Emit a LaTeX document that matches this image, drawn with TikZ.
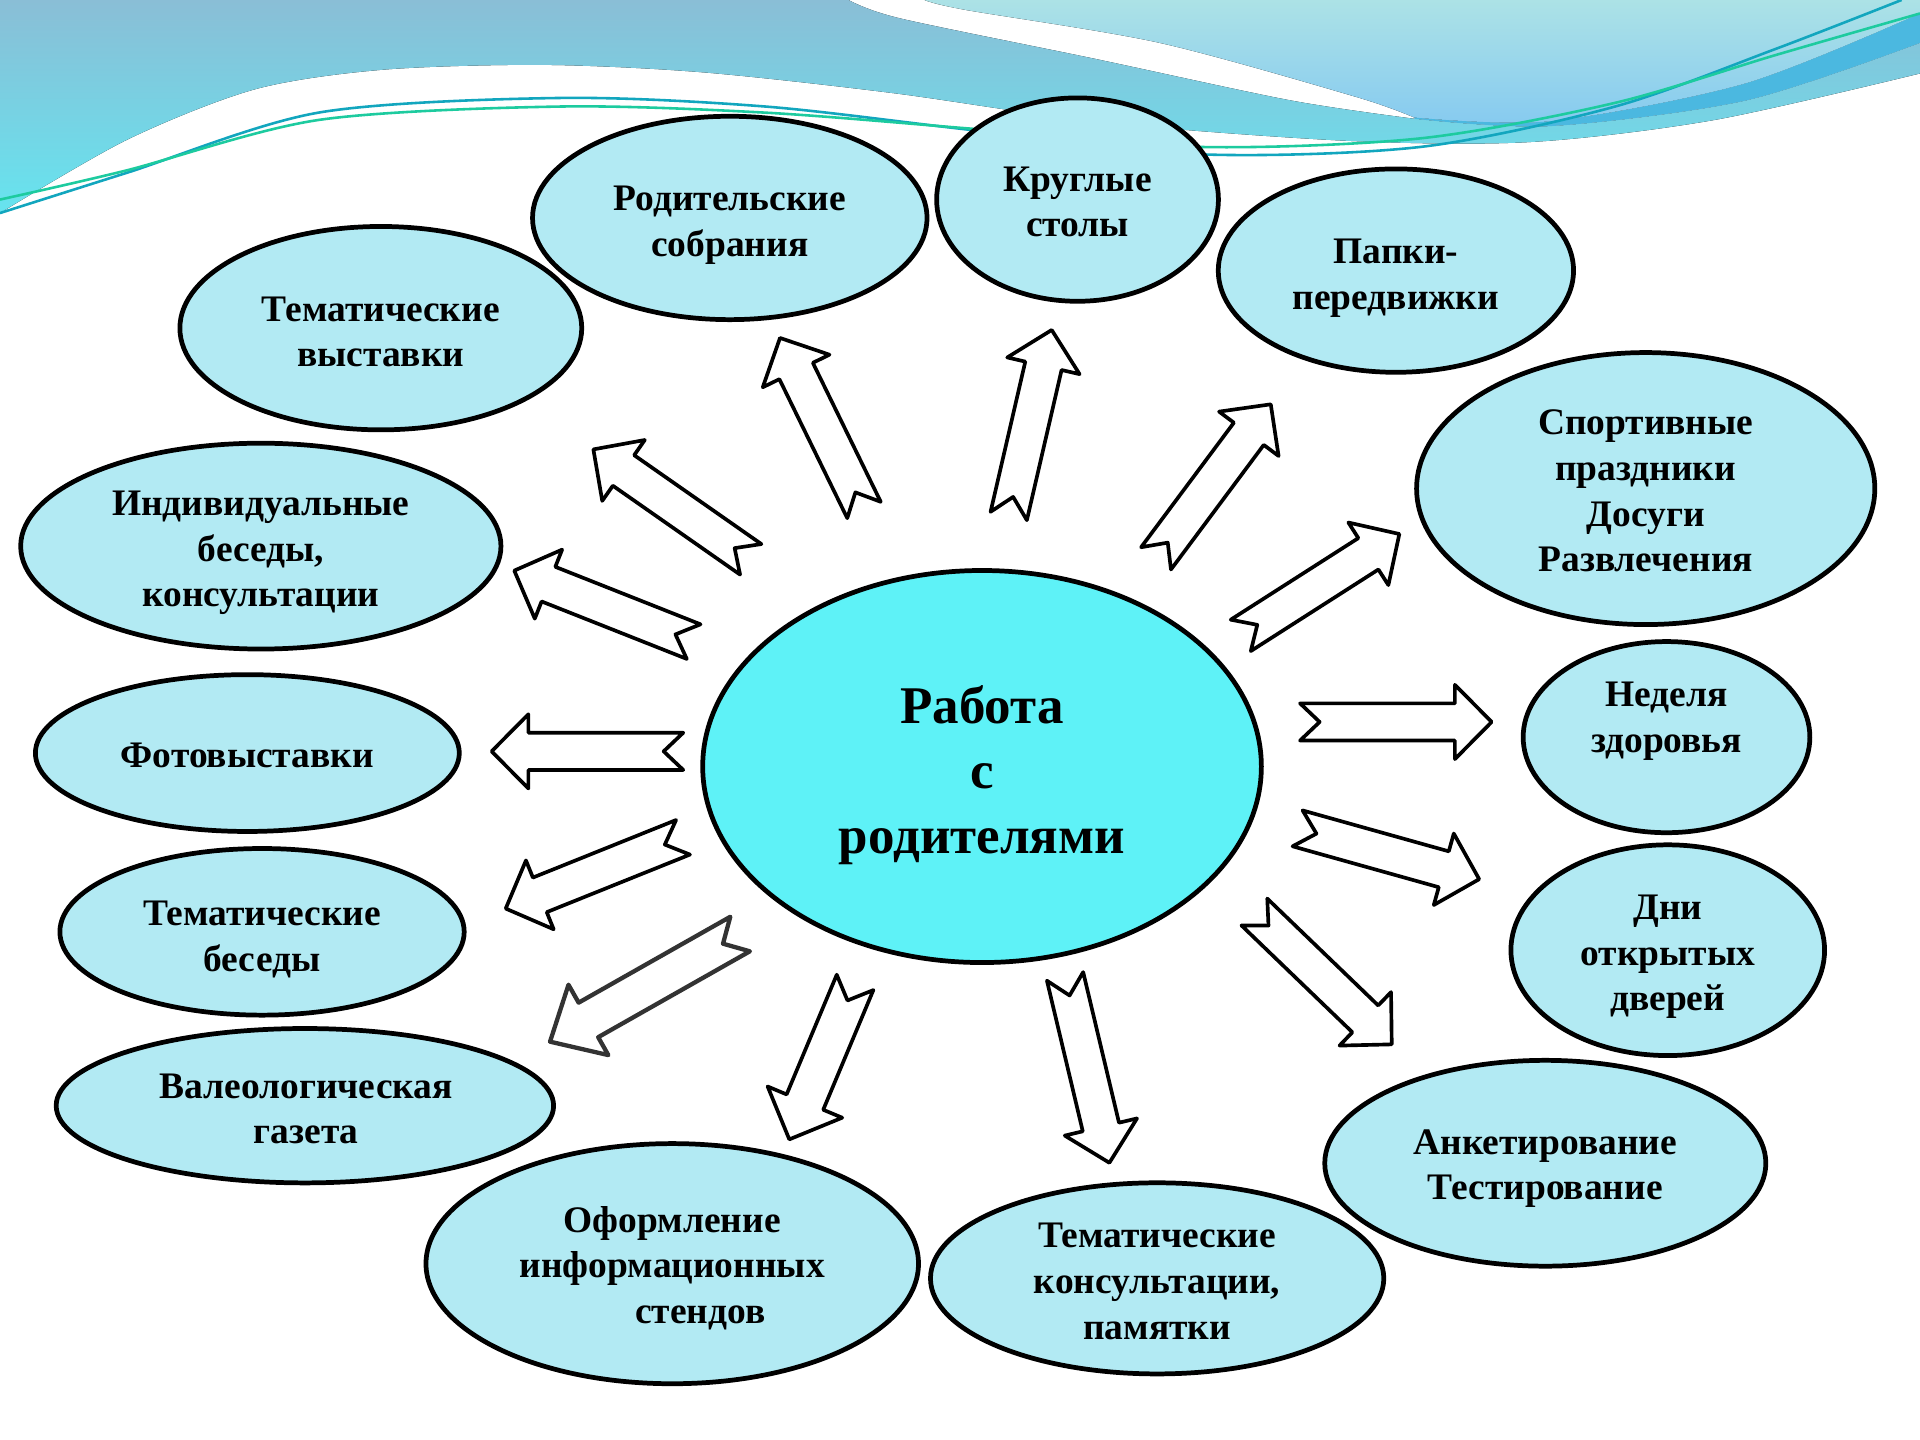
\documentclass[tikz,border=0pt]{standalone}
\usepackage{fontspec}
\setmainfont{Liberation Serif}
\usetikzlibrary{shapes.geometric,calc}
\definecolor{bub}{RGB}{178,234,243}
\definecolor{maincol}{RGB}{94,242,247}
\definecolor{aTop}{RGB}{138,190,214}
\definecolor{aBot}{RGB}{102,228,239}
\definecolor{bTop}{RGB}{172,226,230}
\definecolor{bBot}{RGB}{134,202,240}
\definecolor{streak}{RGB}{75,184,224}
\definecolor{teal}{RGB}{18,166,190}
\definecolor{grn}{RGB}{29,203,159}
\newcommand\bubfont{\bfseries\fontsize{8.7}{10.6}\selectfont}
\newcommand\mainfont{\bfseries\fontsize{12.3}{15.1}\selectfont}
\tikzset{
  bubble/.style={ellipse, draw=black, line width=1.1pt, fill=bub, inner sep=0pt},
  centrebub/.style={ellipse, draw=black, line width=1.1pt, fill=maincol, inner sep=0pt},
  btext/.style={align=center, font=\bubfont, inner sep=0pt},
  mtext/.style={align=center, font=\mainfont, inner sep=0pt},
  barrow/.style={draw=black, fill=white, line width=0.85pt, line join=round},
  blurarrow/.style={draw=black!80, fill=white, line width=1pt, line join=round},
  thin/.style={line width=0.6pt}
}
\newcommand\blockarrow[6]{%
  \coordinate (hb) at ($(#2)!#5!(#1)$);
  \coordinate (nt) at ($(#1)!0.16cm!(#2)$);
  \draw[#6] ($(#1)!#3!90:(#2)$) -- ($(hb)!#3!90:(#2)$) -- ($(hb)!#4!90:(#2)$) -- (#2)
    -- ($(hb)!#4!-90:(#2)$) -- ($(hb)!#3!-90:(#2)$) -- ($(#1)!#3!-90:(#2)$) -- (nt) -- cycle;
}
\begin{document}
\begin{tikzpicture}[x=0.01cm,y=-0.01cm]
\useasboundingbox (0,0) rectangle (1568,1176);
\fill[white] (0,0) rectangle (1568,1176);
% background waves
\fill[top color=aTop, bottom color=aBot] (0,0) -- (693,0)
  -- plot[smooth] coordinates {(693,0) (735,15) (894,48) (1054,82) (1155,97)}
  -- plot[smooth] coordinates {(1155,97) (1266,103) (1426,82) (1568,35)}
  -- (1568,60)
  -- plot[smooth] coordinates {(1568,60) (1400,98) (1250,116) (1100,115) (900,100) (729,76) (573,59) (443,53) (312,57) (208,73) (104,114) (0,174)}
  -- cycle;
\fill[top color=bTop, bottom color=bBot] (755,0) -- (1568,0) -- (1568,11)
  -- plot[smooth] coordinates {(1568,11) (1426,68) (1266,99) (1155,96)}
  -- plot[smooth] coordinates {(1155,96) (1107,79) (947,35) (788,8) (755,0)}
  -- cycle;
\fill[streak] plot[smooth] coordinates {(1155,96) (1266,99) (1426,68) (1568,11)}
  -- (1568,35)
  -- plot[smooth] coordinates {(1568,35) (1426,82) (1266,103) (1155,97)} -- cycle;
\draw[thin, teal] plot[smooth] coordinates {(0,174) (104,141) (260,92) (458,80) (625,87) (792,106) (979,126) (1160,120) (1319,87) (1450,40) (1553,0)};
\draw[thin, grn] plot[smooth] coordinates {(0,163) (104,139) (260,98) (458,87) (625,92) (792,105) (979,120) (1160,113) (1319,84) (1450,45) (1568,11)};
% ellipses
\node[bubble, minimum width=3.22cm, minimum height=1.66cm] (rod) at (596,178) {};
\node[bubble, minimum width=2.30cm, minimum height=1.66cm] (krug) at (880,163) {};
\node[bubble, minimum width=2.90cm, minimum height=1.66cm] (papki) at (1140,221) {};
\node[bubble, minimum width=3.28cm, minimum height=1.66cm] (vyst) at (311,268) {};
\node[bubble, minimum width=3.74cm, minimum height=2.22cm] (sport) at (1344,399) {};
\node[bubble, minimum width=3.92cm, minimum height=1.68cm] (indiv) at (213,446) {};
\node[bubble, minimum width=3.46cm, minimum height=1.28cm] (foto) at (202,615) {};
\node[bubble, minimum width=2.34cm, minimum height=1.56cm] (ned) at (1361,602) {};
\node[centrebub, minimum width=4.56cm, minimum height=3.20cm] (main) at (802,626) {};
\node[bubble, minimum width=3.30cm, minimum height=1.36cm] (besedy) at (214,761) {};
\node[bubble, minimum width=2.56cm, minimum height=1.72cm] (dni) at (1362,776) {};
\node[bubble, minimum width=4.06cm, minimum height=1.26cm] (gaz) at (249,903) {};
\node[bubble, minimum width=3.60cm, minimum height=1.68cm] (ank) at (1262,950) {};
\node[bubble, minimum width=4.02cm, minimum height=1.96cm] (oform) at (549,1032) {};
\node[bubble, minimum width=3.70cm, minimum height=1.56cm] (tkons) at (945,1044) {};
% texts
\node[btext] (rodT) at (596,184) {Родительские\\собрания};
\node[btext] (krugT) at (880,165) {Круглые\\столы};
\node[btext] (papkiT) at (1140,227) {Папки-\\передвижки};
\node[btext] (vystT) at (311,271) {Тематические\\выставки};
\node[btext] (sportT) at (1344,401) {Спортивные\\праздники\\Досуги\\Развлечения};
\node[btext] (indivT) at (213,451.5) {Индивидуальные\\беседы,\\консультации};
\node[btext] (fotoT) at (202,617) {Фотовыставки};
\node[btext] (nedT) at (1361,589) {Неделя\\здоровья};
\node[mtext] (mainT) at (802,633) {Работа\\с\\родителями};
\node[btext] (besedyT) at (214,767) {Тематические\\беседы};
\node[btext] (dniT) at (1362,781.5) {Дни\\открытых\\дверей};
\node[btext] (gazT) at (250,905.5) {Валеологическая\\газета};
\node[btext] (ankT) at (1262,954.5) {Анкетирование\\Тестирование};
\node[btext] (oformT) at (549,1035.5) {Оформление\\информационных\\\hspace*{0.46cm}стендов};
\node[btext] (tkonsT) at (945,1046.5) {Тематические\\консультации,\\памятки};
% arrow end points
\coordinate (t1) at (705.6,416.5);  \coordinate (h1) at (637,276);
\coordinate (t2) at (823.8,421.4);  \coordinate (h2) at (858.9,269.5);
\coordinate (t3) at (944.1,456);    \coordinate (h3) at (1037.8,330.2);
\coordinate (t4) at (1013.3,518.9); \coordinate (h4) at (1142.8,436.1);
\coordinate (t5) at (1061.7,589.6); \coordinate (h5) at (1218.2,589.6);
\coordinate (t6) at (1059.7,676.5); \coordinate (h6) at (1208,718);
\coordinate (t7) at (1024.4,744.8); \coordinate (h7) at (1136.6,852.9);
\coordinate (t8) at (869.8,797.4);  \coordinate (h8) at (906,949.6);
\coordinate (t9) at (698.3,802.3);  \coordinate (h9) at (644.6,930.5);
\coordinate (t10) at (604.4,762.8); \coordinate (h10) at (449.2,850.7);
\coordinate (t11) at (557.8,683.8); \coordinate (h11) at (413,742);
\coordinate (t12) at (558,613.6);   \coordinate (h12) at (401.5,613.6);
\coordinate (t13) at (566.5,524);   \coordinate (h13) at (420,466);
\coordinate (t14) at (613.1,456.8); \coordinate (h14) at (484.6,367);
\blockarrow{t1}{h1}{0.152cm}{0.303cm}{0.30cm}{barrow}
\blockarrow{t2}{h2}{0.152cm}{0.303cm}{0.30cm}{barrow}
\blockarrow{t3}{h3}{0.152cm}{0.303cm}{0.30cm}{barrow}
\blockarrow{t4}{h4}{0.152cm}{0.303cm}{0.30cm}{barrow}
\blockarrow{t5}{h5}{0.152cm}{0.303cm}{0.30cm}{barrow}
\blockarrow{t6}{h6}{0.152cm}{0.303cm}{0.30cm}{barrow}
\blockarrow{t7}{h7}{0.152cm}{0.303cm}{0.30cm}{barrow}
\blockarrow{t8}{h8}{0.152cm}{0.303cm}{0.30cm}{barrow}
\blockarrow{t9}{h9}{0.162cm}{0.33cm}{0.33cm}{barrow}
\blockarrow{t10}{h10}{0.162cm}{0.33cm}{0.36cm}{blurarrow}
\blockarrow{t11}{h11}{0.152cm}{0.303cm}{0.30cm}{barrow}
\blockarrow{t12}{h12}{0.152cm}{0.303cm}{0.30cm}{barrow}
\blockarrow{t13}{h13}{0.152cm}{0.303cm}{0.30cm}{barrow}
\blockarrow{t14}{h14}{0.152cm}{0.303cm}{0.30cm}{barrow}
\end{tikzpicture}
\end{document}
